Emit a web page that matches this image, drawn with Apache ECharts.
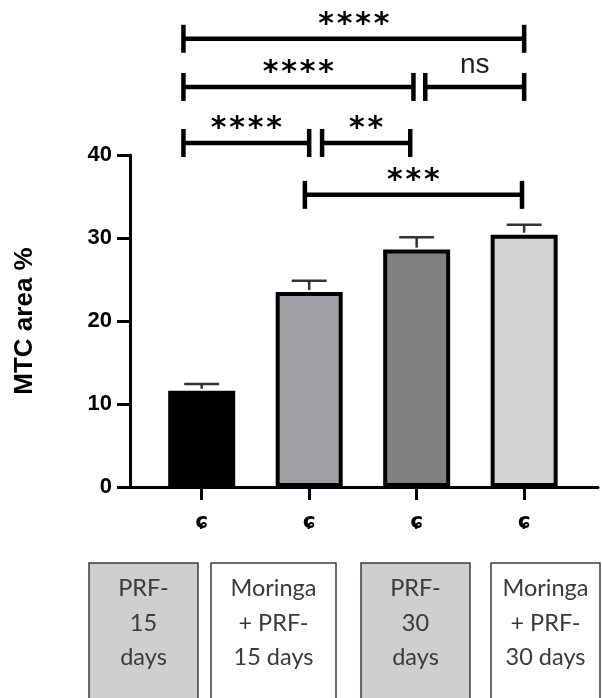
<!DOCTYPE html>
<html>
<head>
<meta charset="utf-8">
<script src="https://cdn.jsdelivr.net/npm/echarts@6/dist/echarts.min.js"></script>
<style>
html,body{margin:0;padding:0;background:#fff;}
#chart{width:602px;height:698px;}
</style>
</head>
<body>
<div id="chart"></div>
<script>
// ---- data ----
const tickLabels = ['ɕ', 'ɕ', 'ɕ', 'ɕ'];
const groupLabels = ['PRF-\n15\ndays', 'Moringa\n+ PRF-\n15 days', 'PRF-\n30\ndays', 'Moringa\n+ PRF-\n30 days'];
const means = [11.6, 23.5, 28.6, 30.4];
const errors = [0.8, 1.35, 1.5, 1.2];
const yTicks = [0, 10, 20, 30, 40];
// significance brackets (x in group index units, y in % units)
const bracketFrom = [-0.17, -0.17, 2.08, -0.17, 1.12, 0.96];
const bracketTo = [3.0, 1.97, 3.0, 1.0, 1.94, 2.98];
const bracketLevel = [54.0, 48.2, 48.2, 41.45, 41.45, 35.2];
const bracketText = ['****', '****', 'ns', '****', '**', '***'];

// ---- styles ----
const barColors = ['#000000', '#a0a0a4', '#808080', '#d3d3d3'];
const boxLayout = [
  { left: 89, width: 109, fill: '#d0cece' },
  { left: 211, width: 125, fill: '#ffffff' },
  { left: 361, width: 109, fill: '#d0cece' },
  { left: 491, width: 109, fill: '#ffffff' }
];
const boxTop = 563;

const chart = echarts.init(document.getElementById('chart'), null, { renderer: 'canvas' });

const graphic = [];
boxLayout.forEach((b, i) => {
  graphic.push({
    type: 'rect',
    shape: { x: b.left, y: boxTop, width: b.width, height: 160 },
    style: { fill: b.fill, stroke: '#3c3c3c', lineWidth: 1.5 },
    z: 10
  });
  graphic.push({
    type: 'text',
    x: b.left + b.width / 2,
    y: 623,
    style: {
      text: groupLabels[i],
      fontFamily: 'Lato',
      fontSize: 23.5,
      lineHeight: 34.5,
      fill: '#3a3a3a',
      align: 'center',
      verticalAlign: 'middle'
    },
    z: 11
  });
});

const option = {
  animation: false,
  backgroundColor: '#ffffff',
  grid: { left: 130, right: 4, top: 155, bottom: 211, containLabel: false },
  xAxis: {
    type: 'value',
    min: -0.667,
    max: 3.687,
    splitLine: { show: false },
    axisLine: { show: true, onZero: false, lineStyle: { color: '#000', width: 3 } },
    axisTick: { show: true, customValues: [0, 1, 2, 3], length: 13, lineStyle: { color: '#000', width: 3 } },
    axisLabel: {
      show: true,
      customValues: [0, 1, 2, 3],
      formatter: v => tickLabels[Math.round(v)],
      margin: 24,
      fontFamily: 'DejaVu Sans',
      fontWeight: 'bold',
      fontSize: 22,
      color: '#000'
    }
  },
  yAxis: {
    type: 'value',
    min: 0,
    max: 40,
    interval: 10,
    splitLine: { show: false },
    axisLine: { show: true, onZero: false, lineStyle: { color: '#000', width: 3 } },
    axisTick: { show: true, length: 13, lineStyle: { color: '#000', width: 3 } },
    axisLabel: {
      margin: 18,
      fontFamily: 'Liberation Sans',
      fontWeight: 'bold',
      fontSize: 22,
      color: '#000',
      formatter: v => (yTicks.indexOf(v) >= 0 ? String(v) : '')
    },
    name: 'MTC area %',
    nameLocation: 'middle',
    nameGap: 92,
    nameTextStyle: { fontFamily: 'Liberation Sans', fontWeight: 'bold', fontSize: 26, color: '#000' }
  },
  graphic: graphic,
  series: [
    {
      type: 'bar',
      barWidth: 67,
      data: means.map((m, i) => ({ value: [i, m], itemStyle: { color: barColors[i] } })),
      itemStyle: { borderColor: '#000', borderWidth: 4 },
      z: 2
    },
    {
      type: 'custom',
      z: 3,
      clip: false,
      data: means.map((m, i) => [i, m, m + errors[i]]),
      encode: { x: 0, y: [1, 2] },
      renderItem: (params, api) => {
        const base = api.coord([api.value(0), api.value(1)]);
        const top = api.coord([api.value(0), api.value(2)]);
        const half = 17.5;
        const st = { stroke: '#333', lineWidth: 2.5 };
        return {
          type: 'group',
          children: [
            { type: 'line', shape: { x1: base[0], y1: base[1] - 2, x2: top[0], y2: top[1] }, style: st },
            { type: 'line', shape: { x1: top[0] - half, y1: top[1], x2: top[0] + half, y2: top[1] }, style: st }
          ]
        };
      }
    },
    {
      type: 'custom',
      z: 4,
      clip: false,
      data: bracketFrom.map((f, i) => [f, bracketTo[i], bracketLevel[i]]),
      encode: { x: [0, 1], y: 2 },
      renderItem: (params, api) => {
        const p1 = api.coord([api.value(0), api.value(2)]);
        const p2 = api.coord([api.value(1), api.value(2)]);
        const tick = 14;
        const st = { stroke: '#000', lineWidth: 4.5 };
        const children = [
          { type: 'line', shape: { x1: p1[0], y1: p1[1], x2: p2[0], y2: p2[1] }, style: st },
          { type: 'line', shape: { x1: p1[0], y1: p1[1] - tick, x2: p1[0], y2: p1[1] + tick }, style: st },
          { type: 'line', shape: { x1: p2[0], y1: p2[1] - tick, x2: p2[0], y2: p2[1] + tick }, style: st }
        ];
        const label = bracketText[params.dataIndex];
        const cx = (p1[0] + p2[0]) / 2;
        const ty = p1[1] - 22;
        if (/^\*+$/.test(label)) {
          const n = label.length;
          for (let k = 0; k < n; k++) {
            children.push({
              type: 'text',
              x: cx + (k - (n - 1) / 2) * 18.5,
              y: ty + 8,
              style: {
                text: '*',
                fontFamily: 'DejaVu Sans',
                fontWeight: 'bold',
                fontSize: 30,
                fill: '#000',
                align: 'center',
                verticalAlign: 'middle'
              }
            });
          }
        } else {
          children.push({
            type: 'text',
            x: cx,
            y: ty,
            style: {
              text: label,
              fontFamily: 'Liberation Sans',
              fontSize: 28,
              fill: '#222',
              align: 'center',
              verticalAlign: 'middle'
            }
          });
        }
        return { type: 'group', children: children };
      }
    }
  ]
};

chart.setOption(option);
</script>
</body>
</html>
